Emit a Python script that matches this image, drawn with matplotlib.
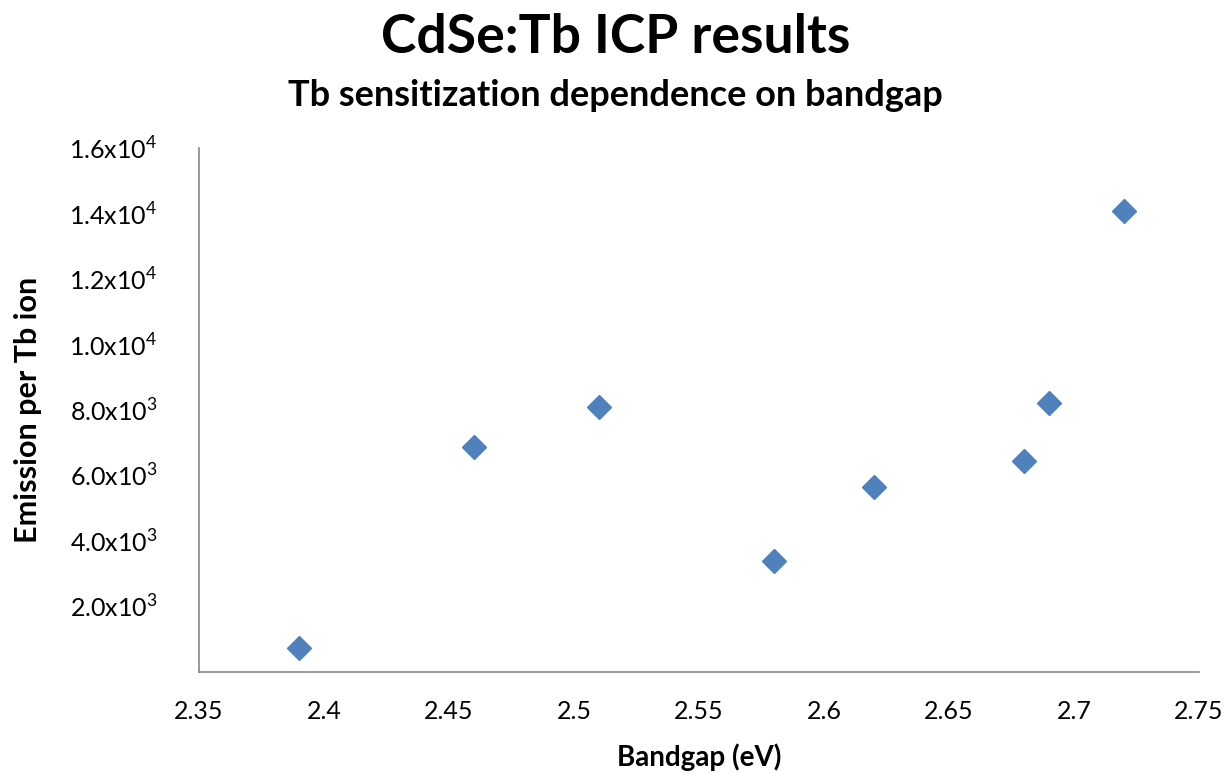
import matplotlib
matplotlib.use("Agg")
import matplotlib.pyplot as plt
from matplotlib.ticker import FixedLocator

plt.rcParams['font.family'] = ['Lato', 'DejaVu Sans']
plt.rcParams['mathtext.fontset'] = 'custom'
plt.rcParams['mathtext.rm'] = 'Lato'

# bandgap (eV) vs emission per Tb ion
bandgap = [2.39, 2.46, 2.51, 2.58, 2.62, 2.68, 2.69, 2.72]
emission = [730, 6870, 8090, 3390, 5650, 6440, 8210, 14080]

x_ticks = [2.35, 2.4, 2.45, 2.5, 2.55, 2.6, 2.65, 2.7, 2.75]
x_tick_labels = ["2.35", "2.4", "2.45", "2.5", "2.55", "2.6", "2.65", "2.7", "2.75"]
y_ticks = [2000, 4000, 6000, 8000, 10000, 12000, 14000, 16000]
y_tick_labels = [r"2.0x10$^{3}$", r"4.0x10$^{3}$", r"6.0x10$^{3}$", r"8.0x10$^{3}$",
                 r"1.0x10$^{4}$", r"1.2x10$^{4}$", r"1.4x10$^{4}$", r"1.6x10$^{4}$"]

fig = plt.figure(figsize=(12.31, 7.73), dpi=100)
ax = fig.add_axes([0.1617, 0.1307, 0.8123, 0.6778])

ax.plot(bandgap, emission, linestyle='none', marker='D', markersize=12,
        color='#4F81BD', markeredgecolor='#4F81BD')

ax.set_xlim(2.35, 2.75)
ax.set_ylim(0, 16000)
ax.xaxis.set_major_locator(FixedLocator(x_ticks))
ax.set_xticklabels(x_tick_labels)
ax.yaxis.set_major_locator(FixedLocator(y_ticks))
ax.set_yticklabels(y_tick_labels)
ax.tick_params(axis='both', length=0, labelsize=18)
ax.tick_params(axis='x', pad=20)
ax.tick_params(axis='y', pad=30)

for side in ['top', 'right']:
    ax.spines[side].set_visible(False)
for side in ['left', 'bottom']:
    ax.spines[side].set_color('#888888')
    ax.spines[side].set_linewidth(1.2)

ax.set_xlabel("Bandgap (eV)", fontsize=20, fontweight='bold')
ax.set_ylabel("Emission per Tb ion", fontsize=22, fontweight='bold')
ax.xaxis.set_label_coords(0.5, -0.162)
ax.xaxis.label.set_va('center')
ax.yaxis.set_label_coords(-0.171, 0.5)
ax.yaxis.label.set_va('center')
ax.yaxis.label.set_ha('center')

fig.text(0.5, 0.951, "CdSe:Tb ICP results", ha='center', va='center',
         fontsize=38.5, fontweight='bold')
fig.text(0.5, 0.877, "Tb sensitization dependence on bandgap", ha='center', va='center',
         fontsize=26, fontweight='bold')

fig.savefig("out.png", dpi=100)
